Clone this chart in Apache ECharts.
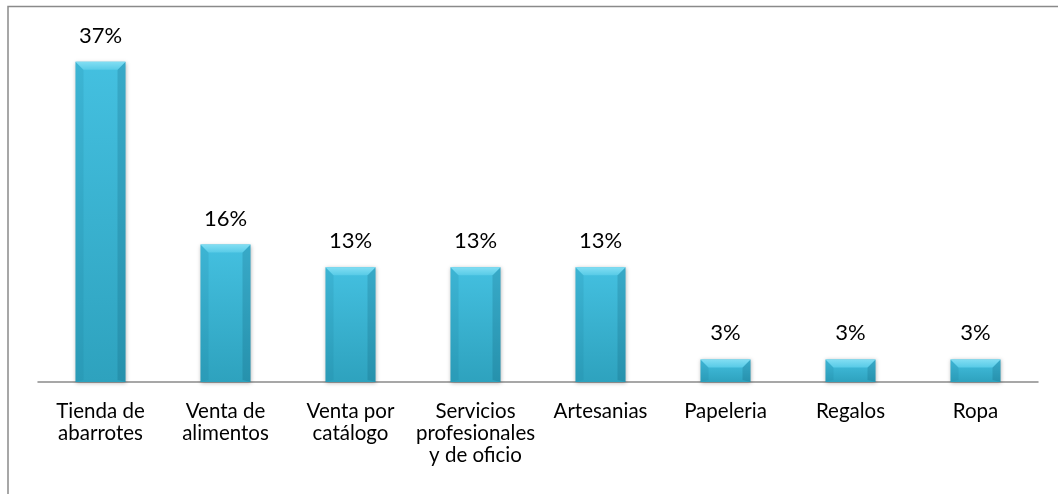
<!DOCTYPE html>
<html>
<head>
<meta charset="utf-8">
<style>
  html, body { margin: 0; padding: 0; background: #ffffff; }
  #chart { width: 1058px; height: 494px; }
</style>
<script src="https://cdn.jsdelivr.net/npm/echarts@6/dist/echarts.min.js"></script>
</head>
<body>
<div id="chart"></div>
<script>
// Business types (share of respondents, %)
const categories = [
  'Tienda de\nabarrotes',
  'Venta de\nalimentos',
  'Venta por\ncatálogo',
  'Servicios\nprofesionales\ny de oficio',
  'Artesanias',
  'Papeleria',
  'Regalos',
  'Ropa'
];
const shares = [36.8, 15.8, 13.2, 13.2, 13.2, 2.6, 2.6, 2.6];

const FONT = 'Lato, "Open Sans", sans-serif';

const chart = echarts.init(document.getElementById('chart'), null, { renderer: 'canvas' });

// Bevelled column: body plus light top facet and shaded side facets
function renderBevelBar(params, api) {
  const idx = api.value(0);
  const val = api.value(1);
  const top = api.coord([idx, val]);
  const base = api.coord([idx, 0]);
  const w = api.size([1, 0])[0] * 0.4;
  const x0 = top[0] - w / 2;
  const x1 = top[0] + w / 2;
  const y0 = top[1];
  const yb = base[1];
  const b = Math.min(8, (yb - y0) / 2);

  const body = {
    type: 'rect',
    shape: { x: x0, y: y0, width: w, height: yb - y0 },
    style: {
      fill: new echarts.graphic.LinearGradient(0, 0, 0, 1, [
        { offset: 0, color: '#44c0e0' },
        { offset: 1, color: '#2ea2be' }
      ]),
      shadowBlur: 4,
      shadowColor: 'rgba(0,0,0,0.3)',
      shadowOffsetX: 0,
      shadowOffsetY: 1
    }
  };
  const topFacet = {
    type: 'polygon',
    shape: { points: [[x0, y0], [x1, y0], [x1 - b, y0 + b], [x0 + b, y0 + b]] },
    style: {
      fill: new echarts.graphic.LinearGradient(0, 0, 0, 1, [
        { offset: 0, color: '#82def3' },
        { offset: 1, color: '#58cbe7' }
      ])
    }
  };
  const leftFacet = {
    type: 'polygon',
    shape: { points: [[x0, y0], [x0 + b, y0 + b], [x0 + b, yb - 2], [x0, yb]] },
    style: { fill: 'rgba(20,110,140,0.14)' }
  };
  const rightFacet = {
    type: 'polygon',
    shape: { points: [[x1, y0], [x1 - b, y0 + b], [x1 - b, yb - 2], [x1, yb]] },
    style: { fill: 'rgba(10,80,105,0.2)' }
  };
  const label = {
    type: 'text',
    style: {
      text: Math.round(val) + '%',
      x: top[0],
      y: y0 - 15,
      align: 'center',
      verticalAlign: 'bottom',
      fill: '#000000',
      font: '22px ' + FONT
    }
  };
  return { type: 'group', children: [body, leftFacet, rightFacet, topFacet, label] };
}

chart.setOption({
  animation: false,
  backgroundColor: '#ffffff',
  graphic: [{
    type: 'rect',
    shape: { x: 8, y: 6.5, width: 1200, height: 700 },
    style: { fill: 'none', stroke: '#8a8a8a', lineWidth: 1.5 },
    z: 0
  }],
  grid: { left: 38, right: 20, top: 34, bottom: 112, containLabel: false },
  xAxis: {
    type: 'category',
    data: categories,
    axisLine: { show: true, lineStyle: { color: '#8a8a8a', width: 1.5 } },
    axisTick: { show: false },
    axisLabel: {
      interval: 0,
      margin: 18,
      color: '#000000',
      fontFamily: FONT,
      fontSize: 20.5,
      lineHeight: 22,
      align: 'center'
    }
  },
  yAxis: {
    type: 'value',
    min: 0,
    max: 40,
    show: false,
    splitLine: { show: false }
  },
  series: [{
    type: 'custom',
    renderItem: renderBevelBar,
    data: shares.map((v, i) => [i, v]),
    encode: { x: 0, y: 1 },
    z: 3
  }]
});
</script>
</body>
</html>
